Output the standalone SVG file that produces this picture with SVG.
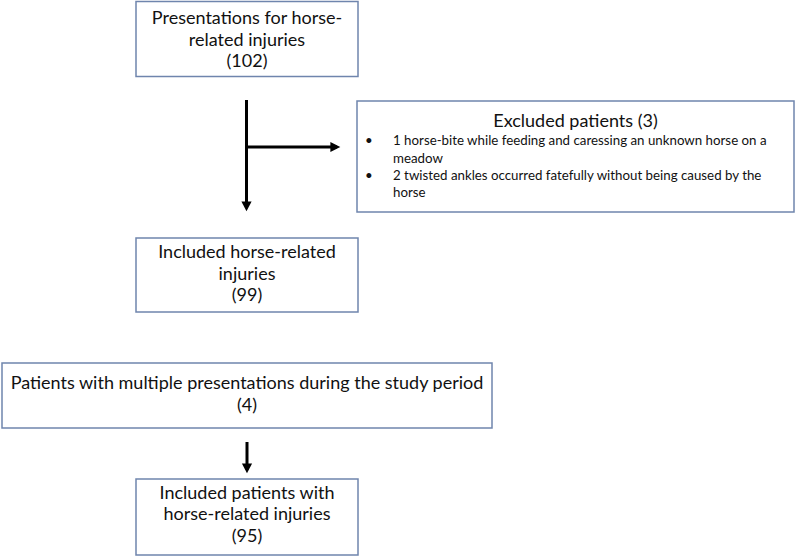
<svg xmlns="http://www.w3.org/2000/svg" width="797" height="557" viewBox="0 0 797 557">
<defs>
<style>
.box{fill:#ffffff;stroke:#6f85ad;stroke-width:1.5}
.t{font-family:Lato,"Liberation Sans",Arial,sans-serif;font-size:18px;fill:#111111;text-anchor:middle}
.s{font-family:Lato,"Liberation Sans",Arial,sans-serif;font-size:13.3px;fill:#111111}
.c{stroke:#000000;stroke-width:3;fill:none}
</style>
<marker id="ah" markerWidth="4" markerHeight="4" refX="2.2" refY="2" orient="auto" markerUnits="strokeWidth">
<path d="M0,0.3 L3.3,2 L0,3.7 Z" fill="#000000"/>
</marker>
</defs>
<rect width="797" height="557" fill="#ffffff"/>
<g id="connectors">
<line class="c" x1="246.5" y1="100" x2="246.5" y2="208" marker-end="url(#ah)"/>
<line class="c" x1="246.5" y1="147" x2="337" y2="147" marker-end="url(#ah)"/>
<line class="c" x1="247" y1="442" x2="247" y2="470" marker-end="url(#ah)"/>
</g>
<g id="presentations">
<rect class="box" x="136" y="1.5" width="222" height="75"/>
<text class="t" x="247" y="24">Presentations for horse-</text>
<text class="t" x="247" y="46">related injuries</text>
<text class="t" x="247" y="67">(102)</text>
</g>
<g id="excluded">
<rect class="box" x="357" y="101" width="437" height="111"/>
<text class="t" x="575.5" y="127">Excluded patients (3)</text>
<text class="s" x="365" y="145">•</text>
<text class="s" x="393" y="145">1 horse-bite while feeding and caressing an unknown horse on a</text>
<text class="s" x="393" y="163">meadow</text>
<text class="s" x="365" y="180">•</text>
<text class="s" x="393" y="180">2 twisted ankles occurred fatefully without being caused by the</text>
<text class="s" x="393" y="197">horse</text>
</g>
<g id="included">
<rect class="box" x="136" y="238" width="222" height="74"/>
<text class="t" x="247" y="258">Included horse-related</text>
<text class="t" x="247" y="280">injuries</text>
<text class="t" x="247" y="301">(99)</text>
</g>
<g id="multiple">
<rect class="box" x="2" y="363" width="490" height="65"/>
<text class="t" x="247" y="389">Patients with multiple presentations during the study period</text>
<text class="t" x="247" y="411">(4)</text>
</g>
<g id="patients">
<rect class="box" x="136" y="479" width="222" height="76"/>
<text class="t" x="247" y="499">Included patients with</text>
<text class="t" x="247" y="520">horse-related injuries</text>
<text class="t" x="247" y="542">(95)</text>
</g>
</svg>
